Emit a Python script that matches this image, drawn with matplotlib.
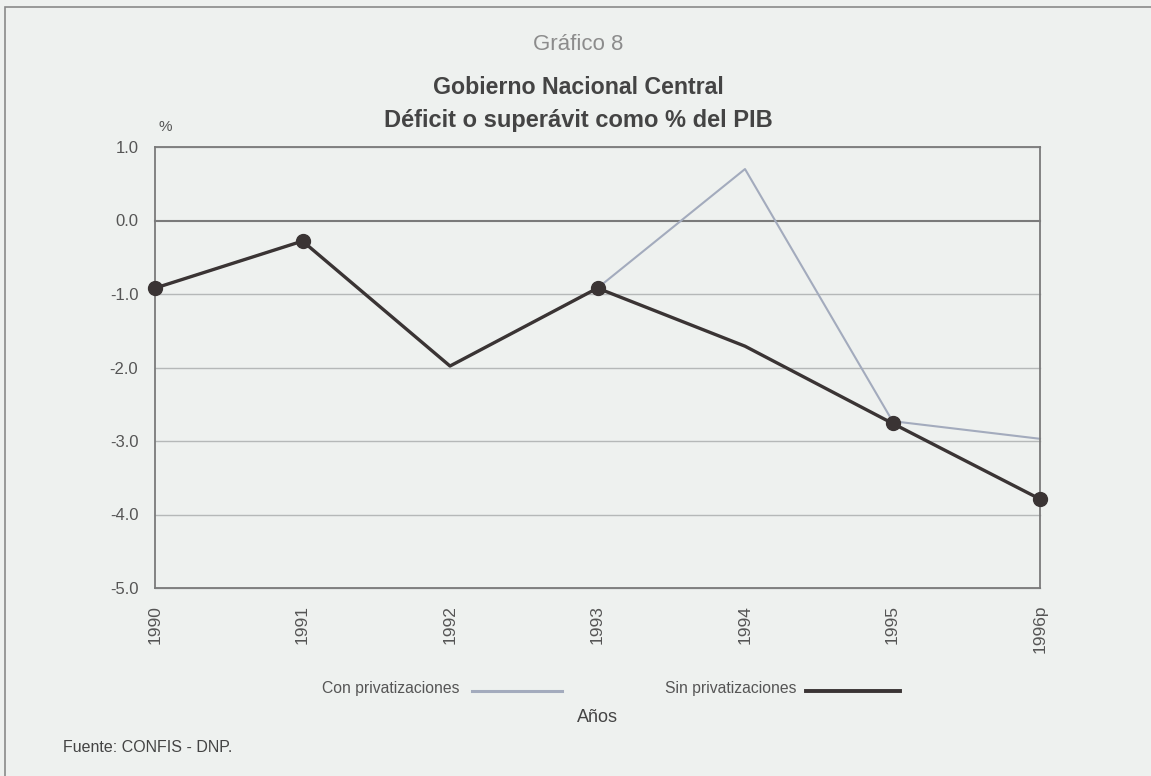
import matplotlib
matplotlib.use("Agg")
import matplotlib.pyplot as plt
from matplotlib.patches import Rectangle
from matplotlib.lines import Line2D

plt.rcParams['font.family'] = ['Liberation Sans', 'DejaVu Sans']

years = ["1990", "1991", "1992", "1993", "1994", "1995", "1996p"]
con_priv = [-0.92, -0.28, -1.98, -0.92, 0.70, -2.73, -2.97]
sin_priv = [-0.92, -0.28, -1.98, -0.92, -1.71, -2.76, -3.79]
y_ticks = [1.0, 0.0, -1.0, -2.0, -3.0, -4.0, -5.0]

BG = "#eef1ef"
TXT = "#555555"
CON_COLOR = "#a3abbd"
SIN_COLOR = "#3a3434"

fig = plt.figure(figsize=(11.51, 7.76), dpi=100)
fig.patch.set_facecolor(BG)

# page frame
fig.patches.append(Rectangle((5 / 1151, -0.1), 1.2, 1 - 7 / 776 + 0.1,
                             transform=fig.transFigure, fill=False,
                             edgecolor="#8a8a8a", linewidth=1.2))

ax = fig.add_axes([155 / 1151, 1 - 588 / 776, 885 / 1151, 441 / 776])
ax.set_facecolor(BG)

x = list(range(len(years)))

# grid
for v in y_ticks:
  if v == 0.0:
    ax.axhline(v, color="#7a7a7a", linewidth=1.5, zorder=1)
  else:
    ax.axhline(v, color="#b5b8b8", linewidth=1.0, zorder=1)

ax.plot(x, con_priv, color=CON_COLOR, linewidth=1.5, zorder=2)
ax.plot(x, sin_priv, color=SIN_COLOR, linewidth=2.4, zorder=3,
        marker="o", markersize=10, markevery=[0, 1, 3, 5, 6],
        markerfacecolor=SIN_COLOR, markeredgecolor=SIN_COLOR)

ax.set_xlim(0, len(years) - 1)
ax.set_ylim(-5.0, 1.0)
ax.set_yticks(y_ticks)
ax.set_yticklabels([f"{v:.1f}" for v in y_ticks])
ax.set_xticks(x)
ax.set_xticklabels(years, rotation=90, va="top")
ax.tick_params(axis="both", length=0, labelsize=12, colors=TXT)
ax.tick_params(axis="y", pad=12)
ax.tick_params(axis="x", pad=12, labelsize=12.5)

for s in ax.spines.values():
  s.set_color("#7a7a7a")
  s.set_linewidth(1.3)
for line in ax.lines:
  line.set_clip_on(False)

# titles
cx = 578 / 1151
fig.text(cx, 1 - 45 / 776, "Gráfico 8", ha="center", va="center",
         fontsize=16, color="#8c8c8c")
fig.text(cx, 1 - 88 / 776, "Gobierno Nacional Central", ha="center",
         va="center", fontsize=16.7, fontweight="bold", color="#444444")
fig.text(cx, 1 - 121 / 776, "Déficit o superávit como % del PIB",
         ha="center", va="center", fontsize=17, fontweight="bold",
         color="#444444")
fig.text(165 / 1151, 1 - 127 / 776, "%", ha="center", va="center",
         fontsize=11, color=TXT)

# legend drawn by hand
fig.text(322 / 1151, 1 - 689 / 776, "Con privatizaciones", ha="left",
         va="center", fontsize=11.3, color=TXT)
fig.lines.append(Line2D([472 / 1151, 562 / 1151], [1 - 691 / 776] * 2,
                        transform=fig.transFigure, color=CON_COLOR,
                        linewidth=2.2))
fig.text(665 / 1151, 1 - 689 / 776, "Sin privatizaciones", ha="left",
         va="center", fontsize=11.3, color=TXT)
fig.lines.append(Line2D([806 / 1151, 900 / 1151], [1 - 691 / 776] * 2,
                        transform=fig.transFigure, color=SIN_COLOR,
                        linewidth=2.8))

fig.text(597 / 1151, 1 - 717 / 776, "Años", ha="center", va="center",
         fontsize=13, color="#444444")
fig.text(63 / 1151, 1 - 748 / 776, "Fuente: CONFIS - DNP.", ha="left",
         va="center", fontsize=11.5, color="#444444")

plt.savefig("out.png", dpi=100, facecolor=BG)
